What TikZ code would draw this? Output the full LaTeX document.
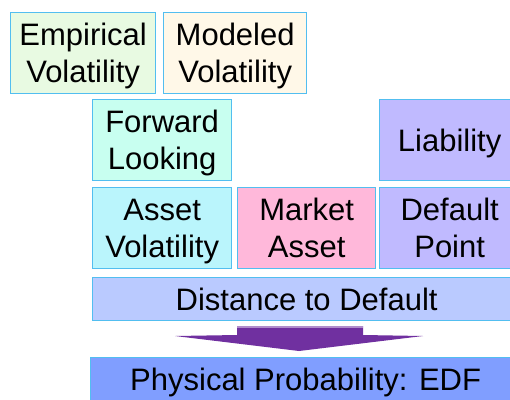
\documentclass[tikz,border=0pt]{standalone}
\usepackage{fontspec}
\setmainfont{Liberation Sans}
\definecolor{edge}{RGB}{82,190,240}
\definecolor{empfill}{RGB}{232,250,226}
\definecolor{modfill}{RGB}{255,248,232}
\definecolor{fwdfill}{RGB}{200,255,240}
\definecolor{avfill}{RGB}{186,245,252}
\definecolor{mktfill}{RGB}{255,184,218}
\definecolor{liafill}{RGB}{192,186,255}
\definecolor{ddfill}{RGB}{186,202,255}
\definecolor{pdfill}{RGB}{128,158,255}
\definecolor{arrowcol}{RGB}{112,48,160}
\begin{document}
\begin{tikzpicture}[x=1pt,y=-1pt,
  block/.style={draw=edge, line width=1.3pt, rectangle, inner sep=0pt,
    anchor=north west, align=center, text depth=0pt,
    font=\fontsize{31}{37}\selectfont},
  sq/.style={minimum width=144pt, minimum height=81pt},
  wide/.style={minimum width=428pt, minimum height=43pt}]
  \clip (0,0) rectangle (510,399);
  \fill[white] (0,0) rectangle (510,399);

  \node[block, sq, fill=empfill, minimum width=145pt] (emp) at (10,12) {Empirical\\Volatility};
  \node[block, sq, fill=modfill, minimum width=143pt] (mod) at (163,12) {Modeled\\Volatility};

  \node[block, sq, fill=fwdfill, minimum width=139pt] (fwd) at (92,99) {Forward\\Looking};
  \node[block, sq, fill=liafill, minimum width=140pt] (lia) at (379,99) {Liability};

  \node[block, sq, fill=avfill, minimum width=139pt] (av) at (92,187) {Asset\\Volatility};
  \node[block, sq, fill=mktfill, minimum width=138pt] (mkt) at (237,187) {Market\\Asset};
  \node[block, sq, fill=liafill, minimum width=140pt] (dp) at (379,187) {Default\\Point};

  \node[block, wide, fill=ddfill] (dd) at (92,277) {Distance to Default};

  \node[block, wide, fill=pdfill, minimum width=430pt] (pd) at (90,357) {Physical Probability: EDF};

  % block arrow from the distance bar down to the probability bar
  \fill[arrowcol] (237,326) -- (363,326) -- (363,335) -- (423,336)
    -- (299,351) -- (175,336) -- (237,335) -- cycle;
  \fill[arrowcol!55!white] (237,326) rectangle (363,328);
\end{tikzpicture}
\end{document}
